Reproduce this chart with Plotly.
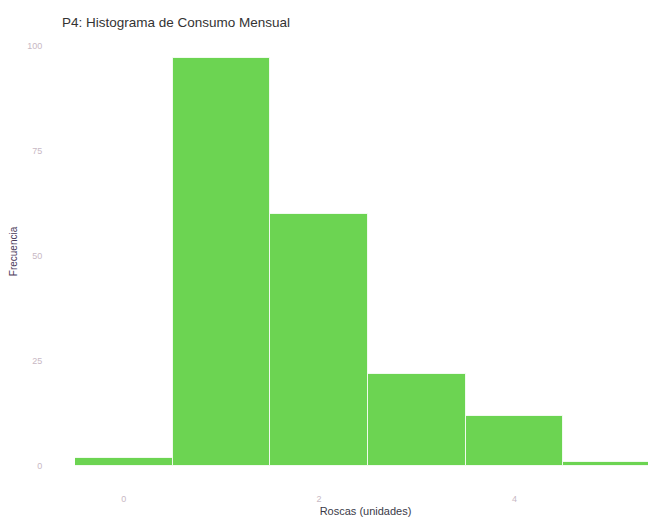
import plotly.graph_objects as go

# Data
roscas = [0, 1, 2, 3, 4, 5]
frecuencia = [2, 97, 60, 22, 12, 1]
x_ticks = [0, 2, 4]
y_ticks = [0, 25, 50, 75, 100]

title_text = "P4: Histograma de Consumo Mensual"
x_title = "Roscas (unidades)"
y_title = "Frecuencia"

# The page body adds an 8px offset, so the figure is 8px smaller on each axis
W, H = 648, 512

fig = go.Figure()
fig.add_trace(go.Bar(
    x=roscas,
    y=frecuencia,
    width=1,
    marker=dict(color="rgb(108,212,82)", line=dict(color="rgba(255,255,255,0.8)", width=1)),
    showlegend=False,
))

fig.update_layout(
    width=W,
    height=H,
    margin=dict(l=67, r=0, t=29, b=54, autoexpand=False),
    paper_bgcolor="white",
    plot_bgcolor="white",
    font=dict(family="Liberation Sans, Arial, sans-serif"),
    bargap=0,
    title=dict(
        text=title_text,
        x=54 / W, xanchor="left",
        y=1 - 14 / H, yanchor="middle",
        font=dict(size=13.5, color="#333333"),
    ),
    xaxis=dict(
        range=[-0.5, 5.45],
        tickvals=x_ticks,
        ticktext=[str(v) for v in x_ticks],
        showgrid=False, zeroline=False, showline=False,
        ticks="outside", ticklen=24, tickcolor="rgba(0,0,0,0)",
        tickfont=dict(size=9, color="#c8b8c4"),
        title=dict(text=x_title, font=dict(size=11, color="#3a3a48"), standoff=4),
        automargin=False,
    ),
    yaxis=dict(
        range=[0, 102.1],
        tickvals=y_ticks,
        ticktext=[str(v) for v in y_ticks],
        showgrid=False, zeroline=False, showline=False,
        ticks="outside", ticklen=30, tickcolor="rgba(0,0,0,0)",
        tickfont=dict(size=9, color="#c8b8c4"),
        title=dict(text=y_title, font=dict(size=10, color="#4a3a5a"), standoff=8),
        automargin=False,
    ),
)

fig.write_html("out.html")
